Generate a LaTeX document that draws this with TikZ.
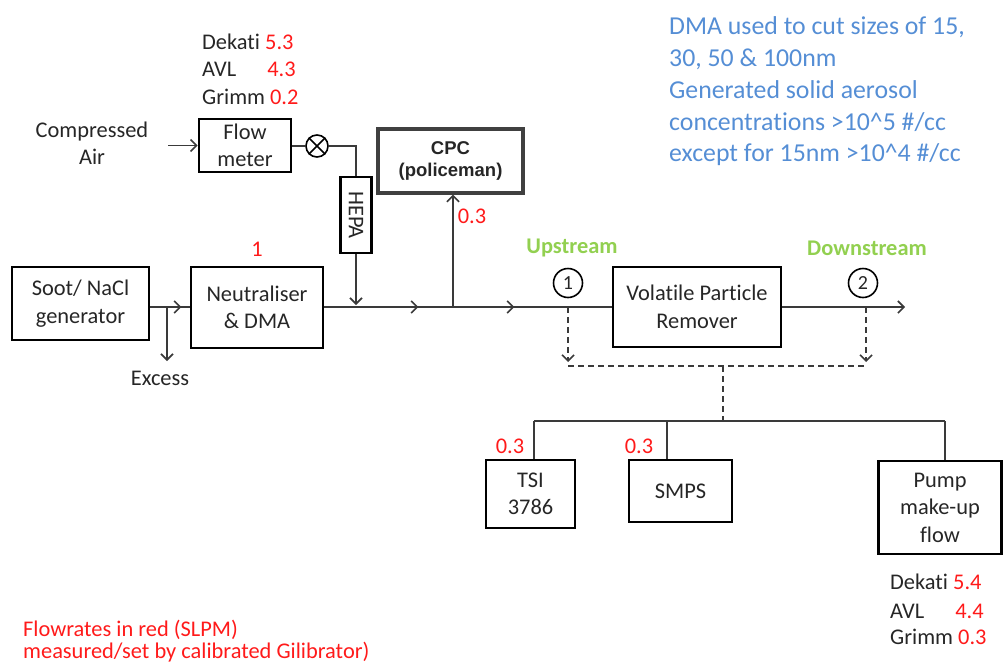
\documentclass[tikz,border=0pt]{standalone}
\usepackage{fontspec}
\setmainfont{Carlito}[Ligatures=NoCommon]
\newfontfamily\arialfont{Liberation Sans}
\usetikzlibrary{arrows.meta,decorations.markings}
\definecolor{txt}{HTML}{262626}
\definecolor{lin}{HTML}{3A3A3A}
\definecolor{flowred}{HTML}{FF1A1A}
\definecolor{grn}{HTML}{92D050}
\definecolor{blu}{HTML}{558ED5}
\definecolor{cpcgray}{HTML}{404040}
\newcommand\fA{\fontsize{22.4}{27.5}\selectfont}
\newcommand\fB{\fontsize{25.8}{31.8}\selectfont}
\newcommand\fC{\fontsize{18.5}{22}\selectfont\arialfont\bfseries}
\begin{document}
\begin{tikzpicture}[x=1pt,y=-1pt,
  box/.style={draw=black, line width=2.6pt, align=center, font=\fA, text=txt, inner sep=0pt},
  conn/.style={draw=lin, line width=1.6pt},
  arr/.style={-{Straight Barb[length=6pt,width=12pt]}},
  dsh/.style={dash pattern=on 6pt off 4pt},
  lbl/.style={font=\fA, text=txt, inner sep=0pt},
  red/.style={font=\fA, text=flowred, inner sep=0pt},
  blue/.style={font=\fB, text=blu, inner sep=0pt, anchor=base west},
  numc/.style={draw=black, circle, line width=1.6pt, minimum size=29pt, inner sep=0pt, font=\fontsize{20}{24}\selectfont, text=txt}
]
\useasboundingbox (0,0) rectangle (1003,664);

% ---- boxes ----
\node[box, minimum width=92, minimum height=53] (flow) at (245,145.5) {Flow\\meter};
\node[box, minimum width=137, minimum height=73] (soot) at (80.5,303.5) {Soot/ NaCl\\generator};
\node[box, minimum width=132, minimum height=81] (neut) at (257,307.5) {Neutraliser\\\& DMA};
\node[box, minimum width=31, minimum height=76] (hepa) at (356,215) {};
\node[rotate=-90, lbl] (hepatxt) at (hepa) {HEPA};
\node[box, draw=cpcgray, line width=3.4pt, minimum width=145, minimum height=64, font=\fC] (cpc) at (450.5,161) {CPC\\(policeman)};
\node[box, minimum width=168, minimum height=80] (vpr) at (697,307) {Volatile Particle\\Remover};
\node[box, minimum width=89, minimum height=68] (tsi) at (530.5,494) {TSI\\3786};
\node[box, minimum width=103, minimum height=62] (smps) at (680.5,491) {SMPS};
\node[box, minimum width=123, minimum height=93] (pump) at (940,507.5) {Pump\\make-up\\flow};

% ---- valve ----
\node[draw=black, circle, line width=1.6pt, minimum size=22pt, inner sep=0pt] (valve) at (317,146) {};
\draw[line width=1.6pt] (valve.45) -- (valve.225) (valve.135) -- (valve.315);

% ---- texts ----
\node[lbl, align=center] (air) at (92,143) {Compressed\\Air};
\node[lbl] (excess) at (160,378) {Excess};
\node[lbl, anchor=base west] (dk1) at (202,49) {Dekati \textcolor{flowred}{5.3}};
\node[lbl, anchor=base west] (dk2) at (202,76) {AVL\hspace{31pt}\textcolor{flowred}{4.3}};
\node[lbl, anchor=base west] (dk3) at (202,104) {Grimm \textcolor{flowred}{0.2}};
\node[lbl, anchor=base west] (pk1) at (890,589) {Dekati \textcolor{flowred}{5.4}};
\node[lbl, anchor=base west] (pk2) at (890,618) {AVL\hspace{31pt}\textcolor{flowred}{4.4}};
\node[lbl, anchor=base west] (pk3) at (890,644) {Grimm \textcolor{flowred}{0.3}};
\node[red] (r1) at (257,249) {1};
\node[red] (rcpc) at (472,216) {0.3};
\node[red] (rtsi) at (510,446) {0.3};
\node[red] (rsmps) at (639,446) {0.3};
\node[red, anchor=base west] (fl1) at (23,636) {Flowrates in red (SLPM)};
\node[red, anchor=base west] (fl2) at (23,658) {measured/set by calibrated Gilibrator)};
\node[font=\fA\bfseries, text=grn, inner sep=0pt] (up) at (572,248) {Upstream};
\node[font=\fA\bfseries, text=grn, inner sep=0pt] (down) at (867,248) {Downstream};
\node[numc] (c1) at (568,283) {1};
\node[numc] (c2) at (863,283) {2};
\node[blue] (b1) at (669,34) {DMA used to cut sizes of 15,};
\node[blue] (b2) at (669,66) {30, 50 \& 100nm};
\node[blue] (b3) at (669,98) {Generated solid aerosol};
\node[blue] (b4) at (669,130) {concentrations >10\^{}5 \#/cc};
\node[blue] (b5) at (669,161) {except for 15nm >10\^{}4 \#/cc};

% ---- coordinates ----
\coordinate (airout) at (168,145.5);
\coordinate (ex) at (167,307);
\coordinate (exend) at (167,361);
\coordinate (hepain) at (356,146);
\coordinate (jh) at (356,305);
\coordinate (jc) at (453,307);
\coordinate (out) at (905,307);
\coordinate (u) at (568,307);
\coordinate (ua) at (568,362);
\coordinate (d) at (866,307);
\coordinate (da) at (866,362);
\coordinate (dl) at (568,366);
\coordinate (dr) at (866,366);
\coordinate (dm) at (723,366);
\coordinate (dj) at (723,421);
\coordinate (s1) at (534,421);
\coordinate (s2) at (667,421);
\coordinate (s3) at (945,421);

% ---- connectors ----
\draw[conn, arr] (airout) -- (flow.west);
\draw[conn] (flow.east |- valve) -- (valve.west);
\draw[conn] (valve.east) -- (hepain) -- (hepa.north -| hepain);
\draw[conn, arr] (hepa.south -| hepain) -- (jh);
\draw[conn, postaction={decorate}, decoration={markings, mark=at position 31pt with {\arrow[line width=1.6pt]{Straight Barb[length=6pt,width=12pt]}}}] (soot.east |- ex) -- (neut.west |- ex);
\draw[conn, arr] (ex) -- (exend);
\draw[conn, postaction={decorate}, decoration={markings,
   mark=at position 94pt with {\arrow[line width=1.6pt]{Straight Barb[length=6pt,width=12pt]}},
   mark=at position 190pt with {\arrow[line width=1.6pt]{Straight Barb[length=6pt,width=12pt]}}}] (neut.east |- ex) -- (vpr.west |- ex);
\draw[conn, arr] (jc) -- (jc |- cpc.south);
\draw[conn, arr] (vpr.east |- ex) -- (out);
% dashed sampling
\draw[conn, dsh, arr] (u) -- (ua);
\draw[conn, dsh, arr] (d) -- (da);
\draw[conn, dsh] (dl) -- (dr);
\draw[conn, dsh] (dm) -- (dj);
% distribution
\draw[conn] (s1) -- (s3);
\draw[conn] (s1) -- (s1 |- tsi.north);
\draw[conn] (s2) -- (s2 |- smps.north);
\draw[conn] (s3) -- (s3 |- pump.north);
\end{tikzpicture}
\end{document}
